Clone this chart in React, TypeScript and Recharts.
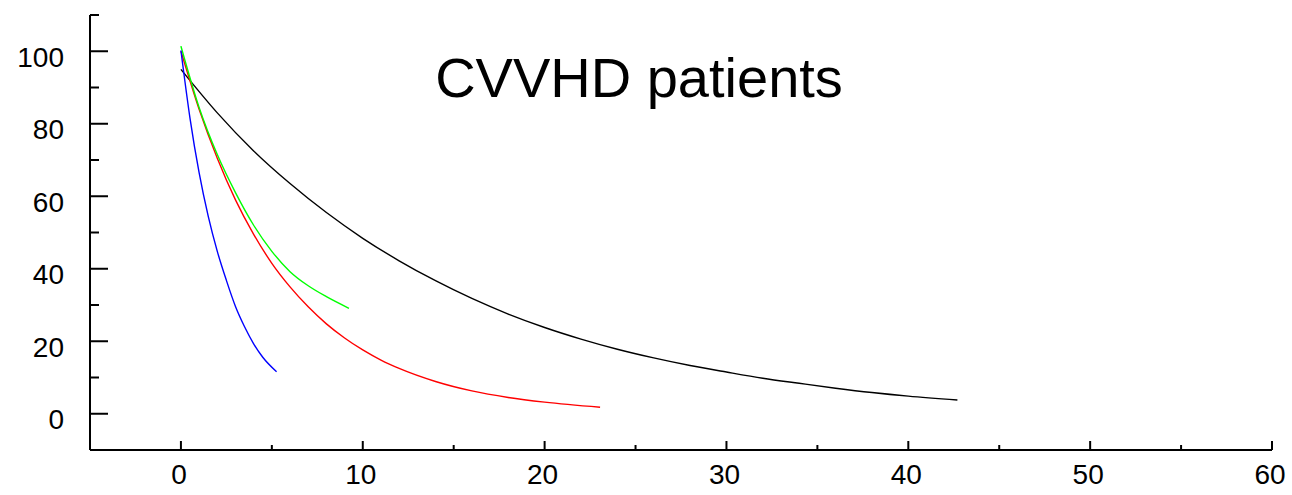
import { LineChart, Line, XAxis, YAxis } from "recharts";

const FONT = '"Liberation Sans", Arial, sans-serif';

// (time vs % remaining)
const blackTime = [0, 2, 4, 6, 8, 10, 12, 14, 16, 18, 20, 22, 24, 26, 28, 30, 32, 34, 36, 38, 40, 42.7];
const blackPct = [95, 83.0, 72.5, 63.5, 55.5, 48.4, 42.2, 36.7, 31.8, 27.5, 23.8, 20.6, 17.8, 15.4, 13.3, 11.5, 9.8, 8.4, 7.05, 5.85, 4.85, 3.8];

const redTime = [0, 1, 2, 3, 4, 5, 6, 7, 8, 9, 10, 11, 12, 14, 16, 18, 20, 23.05];
const redPct = [100, 84, 70.5, 59, 49.5, 41.5, 35, 29.5, 24.8, 20.9, 17.6, 14.8, 12.5, 8.9, 6.3, 4.5, 3.2, 1.8];

const greenTime = [0, 1, 2, 3, 4, 5, 6, 7, 8, 9.24];
const greenPct = [101.4, 84.5, 71.5, 61, 52, 44.8, 39.2, 35.3, 32.3, 29.1];

const blueTime = [0, 0.5, 1, 1.5, 2, 2.5, 3, 3.5, 4, 4.5, 5.26];
const bluePct = [100.2, 81.5, 66.5, 54.5, 44.8, 36.8, 29.6, 24.0, 19.3, 15.6, 11.6];

const xTicks = [-5, 0, 5, 10, 15, 20, 25, 30, 35, 40, 45, 50, 55, 60];
const yTicks = [-10, 0, 10, 20, 30, 40, 50, 60, 70, 80, 90, 100, 110];

const toPoints = (xs: number[], ys: number[]) => xs.map((x, i) => ({ x, y: ys[i] }));

const black = toPoints(blackTime, blackPct);
const red = toPoints(redTime, redPct);
const green = toPoints(greenTime, greenPct);
const blue = toPoints(blueTime, bluePct);

function XTick({ x, y, payload }: any) {
  const v = payload.value;
  const major = v >= 0 && v % 10 === 0;
  return (
    <g>
      <line x1={x} x2={x} y1={y} y2={y - (major ? 9 : 5)} stroke="#000" strokeWidth={2} />
      {major && (
        <text x={x - 2} y={y + 34} textAnchor="middle" fontSize={28} fontFamily={FONT} fill="#000">
          {v}
        </text>
      )}
    </g>
  );
}

function YTick({ x, y, payload }: any) {
  const v = payload.value;
  const major = v >= 0 && v <= 100 && v % 20 === 0;
  return (
    <g>
      <line x1={x} x2={x + (major ? 18 : 9)} y1={y} y2={y} stroke="#000" strokeWidth={2} />
      {major && (
        <text x={x - 26} y={y + 15.5} textAnchor="end" fontSize={28} fontFamily={FONT} fill="#000">
          {v}
        </text>
      )}
    </g>
  );
}

export default function App() {
  return (
    <div style={{ position: "absolute", left: 0, top: 0, width: 1292, height: 495, background: "#fff" }}>
      <LineChart width={1292} height={495} margin={{ top: 15, right: 20, left: 0, bottom: 0 }}>
        <XAxis
          type="number"
          dataKey="x"
          domain={[-5, 60]}
          ticks={xTicks}
          interval={0}
          height={45}
          tickSize={0}
          tickMargin={0}
          tickLine={false}
          tick={XTick}
          axisLine={{ stroke: "#000", strokeWidth: 2 }}
          allowDataOverflow
        />
        <YAxis
          type="number"
          domain={[-10, 110]}
          ticks={yTicks}
          interval={0}
          width={90}
          tickSize={0}
          tickMargin={0}
          tickLine={false}
          tick={YTick}
          axisLine={{ stroke: "#000", strokeWidth: 2 }}
          allowDataOverflow
        />
        <Line data={black} dataKey="y" type="monotone" stroke="#000" strokeWidth={1.4} dot={false} isAnimationActive={false} />
        <Line data={red} dataKey="y" type="monotone" stroke="#ff0000" strokeWidth={1.4} dot={false} isAnimationActive={false} />
        <Line data={green} dataKey="y" type="monotone" stroke="#00ff00" strokeWidth={1.4} dot={false} isAnimationActive={false} />
        <Line data={blue} dataKey="y" type="monotone" stroke="#0000ff" strokeWidth={1.4} dot={false} isAnimationActive={false} />
      </LineChart>
      <svg width={1292} height={495} style={{ position: "absolute", left: 0, top: 0, pointerEvents: "none" }}>
        <text x={639} y={97} textAnchor="middle" fontSize={56} fontFamily={FONT} fill="#000">
          CVVHD patients
        </text>
      </svg>
    </div>
  );
}
